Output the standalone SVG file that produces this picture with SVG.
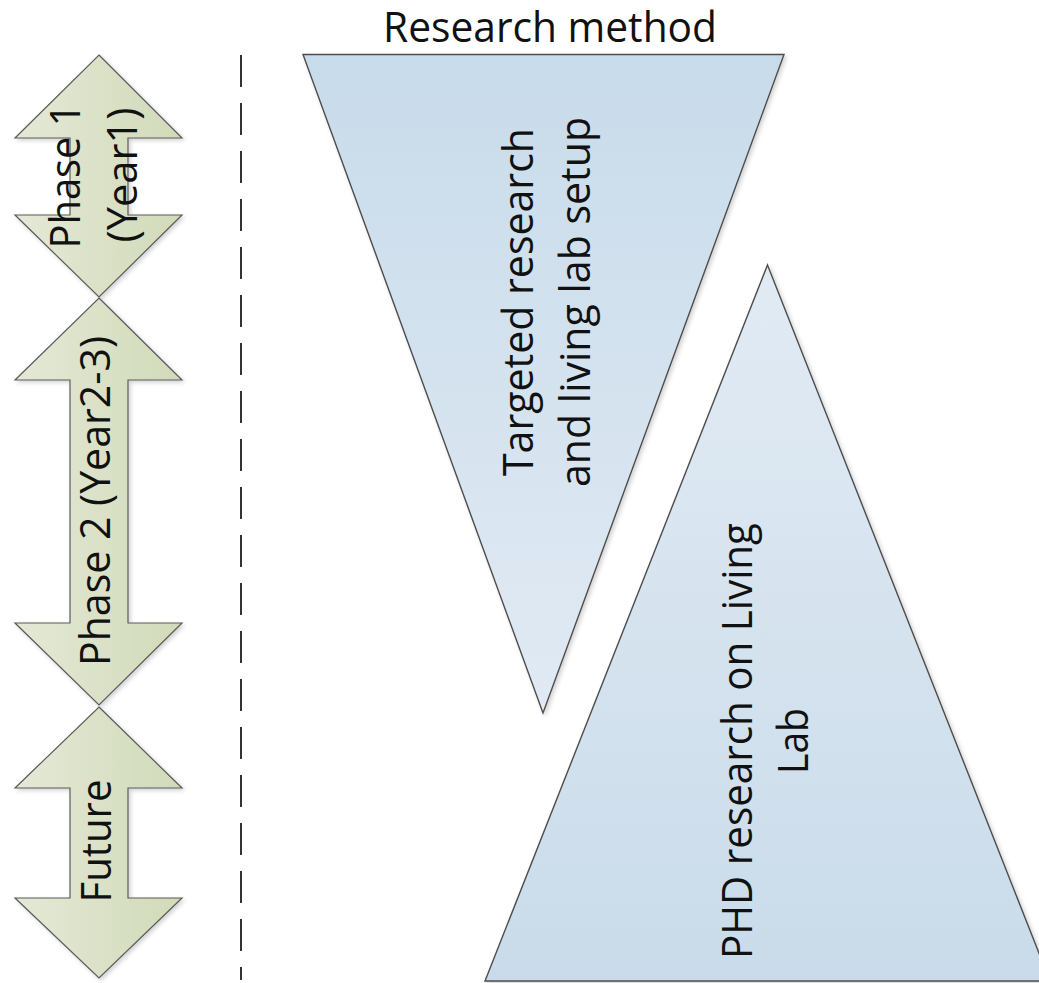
<svg xmlns="http://www.w3.org/2000/svg" width="1039" height="983" viewBox="0 0 1039 983">
  <defs>
    <linearGradient id="gGreen" x1="0" y1="0" x2="1" y2="0">
      <stop offset="0" stop-color="#e4e9d6"/>
      <stop offset="1" stop-color="#d1dab9"/>
    </linearGradient>
    <linearGradient id="gBlueDown" x1="0" y1="0" x2="0" y2="1">
      <stop offset="0" stop-color="#c8dbea"/>
      <stop offset="1" stop-color="#e1eaf4"/>
    </linearGradient>
    <linearGradient id="gBlueUp" x1="0" y1="0" x2="0" y2="1">
      <stop offset="0" stop-color="#e2ebf4"/>
      <stop offset="1" stop-color="#c9dbea"/>
    </linearGradient>
    <filter id="shadow" x="-10%" y="-10%" width="130%" height="130%">
      <feDropShadow dx="2" dy="2" stdDeviation="2" flood-color="#000" flood-opacity="0.18"/>
    </filter>
  </defs>
  <style>
    .arrow { fill: url(#gGreen); stroke: #5a5a5a; stroke-width: 1.2; filter: url(#shadow); }
    .tri { stroke: #4d4d4d; stroke-width: 1.4; stroke-linejoin: miter; filter: url(#shadow); }
    .lbl { font-family: "Open Sans", "Noto Sans", "Liberation Sans", sans-serif; font-size: 41.5px; fill: #111; text-anchor: middle; }
    .sep { stroke: #333; stroke-width: 2; stroke-dasharray: 32 16; fill: none; }
  </style>
  <rect width="1039" height="983" fill="#ffffff"/>

  <g id="title">
    <text class="lbl" x="550" y="42" textLength="334" lengthAdjust="spacingAndGlyphs">Research method</text>
  </g>

  <g id="separator">
    <line class="sep" x1="241" y1="55" x2="241" y2="980"/>
  </g>

  <g id="phase1">
    <path class="arrow" d="M99,55 L182,138 L128,138 L128,215 L182,215 L99,297 L15,215 L70,215 L70,138 L15,138 Z"/>
    <text class="lbl" transform="rotate(-90 80 176)" x="80" y="176" textLength="145" lengthAdjust="spacingAndGlyphs">Phase 1</text>
    <text class="lbl" transform="rotate(-90 137 175)" x="137" y="175" textLength="135" lengthAdjust="spacingAndGlyphs">(Year1)</text>
  </g>

  <g id="phase2">
    <path class="arrow" d="M99,298 L182,380 L128,380 L128,623 L182,623 L99,705 L15,623 L70,623 L70,380 L15,380 Z"/>
    <text class="lbl" transform="rotate(-90 110 501)" x="110" y="501" textLength="330" lengthAdjust="spacingAndGlyphs">Phase 2 (Year2-3)</text>
  </g>

  <g id="future">
    <path class="arrow" d="M99,707 L182,788 L128,788 L128,898 L182,898 L99,978 L15,898 L70,898 L70,788 L15,788 Z"/>
    <text class="lbl" transform="rotate(-90 111 841)" x="111" y="841" textLength="123" lengthAdjust="spacingAndGlyphs">Future</text>
  </g>

  <g id="targeted-research">
    <path class="tri" fill="url(#gBlueDown)" d="M303,54.5 L784,54.5 L543,713 Z"/>
    <text class="lbl" transform="rotate(-90 533 302)" x="533" y="302" textLength="348" lengthAdjust="spacingAndGlyphs">Targeted research</text>
    <text class="lbl" transform="rotate(-90 590 302)" x="590" y="302" textLength="370" lengthAdjust="spacingAndGlyphs">and living lab setup</text>
  </g>

  <g id="phd-research">
    <path class="tri" fill="url(#gBlueUp)" d="M767.5,265 L1050,981 L485,981 Z"/>
    <text class="lbl" transform="rotate(-90 752 741)" x="752" y="741" textLength="436" lengthAdjust="spacingAndGlyphs">PHD research on Living</text>
    <text class="lbl" transform="rotate(-90 808 741)" x="808" y="741" textLength="66" lengthAdjust="spacingAndGlyphs">Lab</text>
  </g>
</svg>
